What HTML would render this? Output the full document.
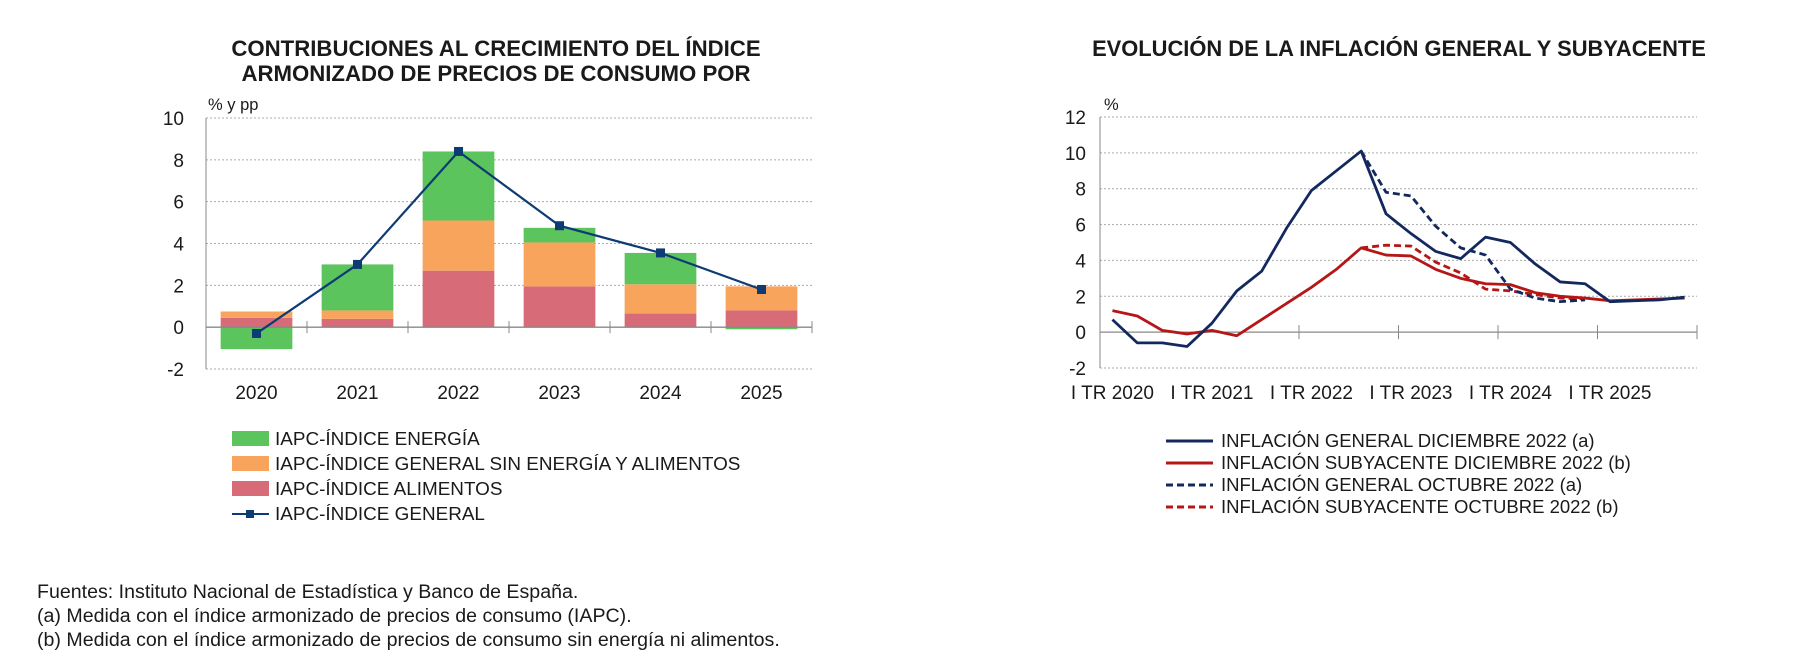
<!DOCTYPE html>
<html><head><meta charset="utf-8">
<style>
html,body{margin:0;padding:0;background:#fff;}
body{width:1819px;height:655px;overflow:hidden;font-family:"Liberation Sans",sans-serif;}
svg text{font-family:"Liberation Sans",sans-serif;fill:#1a1a1a;}
</style></head>
<body>
<svg id="c" width="1819" height="655" viewBox="0 0 1819 655">
<g>
<text x="496" y="56" text-anchor="middle" font-size="22.2" font-weight="bold">CONTRIBUCIONES AL CRECIMIENTO DEL ÍNDICE</text>
<text x="496" y="81" text-anchor="middle" font-size="22.2" font-weight="bold">ARMONIZADO DE PRECIOS DE CONSUMO POR</text>
</g>
<text x="1399" y="56" text-anchor="middle" font-size="21.9" font-weight="bold">EVOLUCIÓN DE LA INFLACIÓN GENERAL Y SUBYACENTE</text>
<text x="208" y="110" font-size="16.5">% y pp</text>
<text x="1104" y="110" font-size="16.5">%</text>
<g id="left"></g>
<g id="right"></g>
<g>
<rect x="232" y="431" width="37" height="15" fill="#5cc45c"/>
<text x="275" y="445" font-size="18.9">IAPC-ÍNDICE ENERGÍA</text>
<rect x="232" y="456" width="37" height="15" fill="#f9a45c"/>
<text x="275" y="470" font-size="18.9">IAPC-ÍNDICE GENERAL SIN ENERGÍA Y ALIMENTOS</text>
<rect x="232" y="481" width="37" height="15" fill="#d86b78"/>
<text x="275" y="495" font-size="18.9">IAPC-ÍNDICE ALIMENTOS</text>
<line x1="232" y1="514" x2="269" y2="514" stroke="#0d3b73" stroke-width="2"/>
<rect x="246" y="510" width="8" height="8" fill="#0d3b73"/>
<text x="275" y="520" font-size="18.9">IAPC-ÍNDICE GENERAL</text>
</g>
<g>
<line x1="1166" y1="441" x2="1213" y2="441" stroke="#13295e" stroke-width="3"/>
<text x="1221" y="447" font-size="18.5">INFLACIÓN GENERAL DICIEMBRE 2022 (a)</text>
<line x1="1166" y1="463" x2="1213" y2="463" stroke="#b51717" stroke-width="3"/>
<text x="1221" y="469" font-size="18.5">INFLACIÓN SUBYACENTE DICIEMBRE 2022 (b)</text>
<line x1="1166" y1="485" x2="1213" y2="485" stroke="#13295e" stroke-width="3" stroke-dasharray="7,4"/>
<text x="1221" y="491" font-size="18.5">INFLACIÓN GENERAL OCTUBRE 2022 (a)</text>
<line x1="1166" y1="507" x2="1213" y2="507" stroke="#b51717" stroke-width="3" stroke-dasharray="7,4"/>
<text x="1221" y="513" font-size="18.5">INFLACIÓN SUBYACENTE OCTUBRE 2022 (b)</text>
</g>
<g>
<text x="37" y="598" font-size="19.6">Fuentes: Instituto Nacional de Estadística y Banco de España.</text>
<text x="37" y="622" font-size="19.6">(a) Medida con el índice armonizado de precios de consumo (IAPC).</text>
<text x="37" y="646" font-size="19.6">(b) Medida con el índice armonizado de precios de consumo sin energía ni alimentos.</text>
</g>
</svg>
<script>
const years = ["2020","2021","2022","2023","2024","2025"];
const food = [0.45,0.4,2.7,1.95,0.65,0.8];
const core = [0.3,0.4,2.4,2.1,1.4,1.15];
const energy = [-1.05,2.2,3.3,0.7,1.5,-0.1];
const general = [-0.3,3.0,8.4,4.85,3.55,1.8];
const leftTicks = [-2,0,2,4,6,8,10];

const qLabels = ["I TR 2020","I TR 2021","I TR 2022","I TR 2023","I TR 2024","I TR 2025"];
const genDic = [0.7,-0.6,-0.6,-0.8,0.5,2.3,3.4,5.8,7.9,9.0,10.1,6.6,5.5,4.5,4.1,5.3,5.0,3.8,2.8,2.7,1.7,1.75,1.8,1.95];
const subDic = [1.2,0.9,0.1,-0.1,0.1,-0.2,0.7,1.6,2.5,3.5,4.7,4.3,4.25,3.5,3.0,2.7,2.65,2.2,2.0,1.9,1.75,1.8,1.85,1.9];
const genOct = [null,null,null,null,null,null,null,null,null,null,10.1,7.8,7.6,5.9,4.7,4.3,2.4,1.9,1.7,1.8];
const subOct = [null,null,null,null,null,null,null,null,null,null,4.7,4.85,4.8,3.9,3.3,2.4,2.3,2.1,1.9,1.85];
const rightTicks = [-2,0,2,4,6,8,10,12];

const NS="http://www.w3.org/2000/svg";
function mk(parent,tag,attrs){const e=document.createElementNS(NS,tag);for(const k in attrs)e.setAttribute(k,attrs[k]);parent.appendChild(e);return e;}

// LEFT
(function(){
const g=document.getElementById('left');
const L=206,R=812,T=118,B=369,ymin=-2,ymax=10;
const y=v=>B-(v-ymin)/(ymax-ymin)*(B-T);
const slot=(R-L)/years.length;
const xc=i=>L+slot*(i+0.5);
leftTicks.forEach(t=>{
 if(t!==0){const l=mk(g,'line',{x1:L,x2:R,y1:y(t),y2:y(t),stroke:'#aaa','stroke-width':1,'stroke-dasharray':'2,2'});
 }
 const tx=mk(g,'text',{x:184,y:y(t)+7,'text-anchor':'end','font-size':19});tx.textContent=t;
 
});
const ax=mk(g,'line',{x1:L,x2:L,y1:T,y2:B,stroke:'#888','stroke-width':1});

const bw=slot*0.71;
years.forEach((yr,i)=>{
 const x0=xc(i)-bw/2;
 let pos=0,neg=0;
 [[food[i],'#d86b78','bar-food'],[core[i],'#f9a45c','bar-core'],[energy[i],'#5cc45c','bar-energy']].forEach(([v,c,n])=>{
  let a,b;
  if(v>=0){a=pos;b=pos+v;pos=b;}else{a=neg;b=neg+v;neg=b;}
  const r=mk(g,'rect',{x:x0,width:bw,y:y(Math.max(a,b)),height:Math.abs(y(a)-y(b)),fill:c});
  
 });
 const tx=mk(g,'text',{x:xc(i),y:399,'text-anchor':'middle','font-size':19});tx.textContent=yr;
 
});
const z=mk(g,'line',{x1:L,x2:R,y1:y(0),y2:y(0),stroke:'#888','stroke-width':1.3});

for(let i=1;i<=years.length;i++){const tk=mk(g,'line',{x1:L+slot*i,x2:L+slot*i,y1:y(0)-6,y2:y(0)+6,stroke:'#888'});
 }
const pl=mk(g,'polyline',{points:general.map((v,i)=>xc(i)+','+y(v)).join(' '),fill:'none',stroke:'#0d3b73','stroke-width':2.2});

general.forEach((v,i)=>{const m=mk(g,'rect',{x:xc(i)-4.5,y:y(v)-4.5,width:9,height:9,fill:'#0d3b73'});
 });
})();

// RIGHT
(function(){
const g=document.getElementById('right');
const L=1100,R=1697,T=117,B=368,ymin=-2,ymax=12;
const y=v=>B-(v-ymin)/(ymax-ymin)*(B-T);
const q=(R-L)/24;
const x=i=>L+q*(i+0.5);
rightTicks.forEach(t=>{
 if(t!==0){const l=mk(g,'line',{x1:L,x2:R,y1:y(t),y2:y(t),stroke:'#aaa','stroke-width':1,'stroke-dasharray':'2,2'});
 }
 const tx=mk(g,'text',{x:1086,y:y(t)+7,'text-anchor':'end','font-size':19});tx.textContent=t;
 
});
const ax=mk(g,'line',{x1:L,x2:L,y1:T,y2:B,stroke:'#888'});

const z=mk(g,'line',{x1:L,x2:R,y1:y(0),y2:y(0),stroke:'#888','stroke-width':1.3});

for(let k=2;k<=6;k++){const tk=mk(g,'line',{x1:L+q*4*k,x2:L+q*4*k,y1:y(0)-7,y2:y(0)+7,stroke:'#888'});
 }
qLabels.forEach((s,k)=>{const tx=mk(g,'text',{x:x(4*k),y:399,'text-anchor':'middle','font-size':19});tx.textContent=s;
 });
function line(arr,c,dash,name){
 const pts=[];arr.forEach((v,i)=>{if(v!==null)pts.push(x(i)+','+y(v));});
 const a={points:pts.join(' '),fill:'none',stroke:c,'stroke-width':2.8,'stroke-linejoin':'round'};
 if(dash)a['stroke-dasharray']='7,4';
 const p=mk(g,'polyline',a);
 
}
line(subOct,'#b51717',true,'subyacente-oct-line');
line(genOct,'#13295e',true,'general-oct-line');
line(subDic,'#b51717',false,'subyacente-dic-line');
line(genDic,'#13295e',false,'general-dic-line');
})();
</script>
</body></html>
